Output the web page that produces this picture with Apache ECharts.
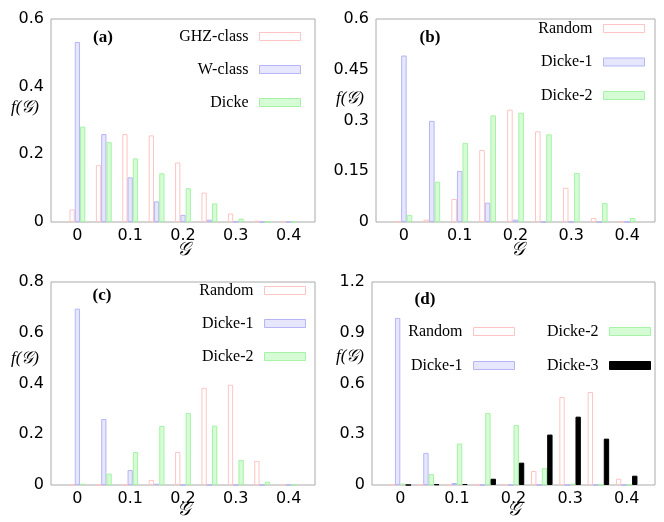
<!DOCTYPE html>
<html>
<head>
<meta charset="utf-8">
<script src="https://cdn.jsdelivr.net/npm/echarts@6/dist/echarts.min.js"></script>
<style>
  html, body { margin: 0; padding: 0; background: #fff; }
  #chart { width: 664px; height: 522px; }
</style>
</head>
<body>
<div id="chart"></div>
<script>
// Bin centres of the entanglement measure G
const bins = [0, 0.05, 0.1, 0.15, 0.2, 0.25, 0.3, 0.35, 0.4];
const xTicks = [0, 0.1, 0.2, 0.3, 0.4];

// Panel (a)
const ghzA   = [0.037, 0.168, 0.260, 0.256, 0.176, 0.087, 0.025, 0.004, 0.002];
const wA     = [0.532, 0.260, 0.132, 0.061, 0.021, 0.007, 0.001, 0, 0];
const dickeA = [0.282, 0.236, 0.188, 0.144, 0.100, 0.055, 0.010, 0, 0];
const yTicksA = [0, 0.2, 0.4, 0.6];

// Panel (b)
const randomB = [0.001, 0.007, 0.068, 0.213, 0.332, 0.268, 0.101, 0.012, 0.002];
const dicke1B = [0.492, 0.299, 0.151, 0.057, 0.007, 0, 0, 0, 0];
const dicke2B = [0.021, 0.119, 0.234, 0.315, 0.323, 0.259, 0.145, 0.056, 0.012];
const yTicksB = [0, 0.15, 0.3, 0.45, 0.6];

// Panel (c)
const randomC = [0, 0, 0, 0.020, 0.130, 0.383, 0.395, 0.095, 0.003];
const dicke1C = [0.695, 0.260, 0.059, 0.005, 0, 0, 0, 0, 0];
const dicke2C = [0.005, 0.045, 0.130, 0.233, 0.284, 0.234, 0.099, 0.013, 0];
const yTicksC = [0, 0.2, 0.4, 0.6, 0.8];

// Panel (d)
const randomD = [0, 0, 0, 0.001, 0.004, 0.083, 0.520, 0.550, 0.037];
const dicke1D = [0.988, 0.190, 0.012, 0, 0, 0, 0, 0, 0];
const dicke2D = [0.008, 0.065, 0.245, 0.426, 0.355, 0.100, 0.008, 0, 0];
const dicke3D = [0, 0.004, 0.006, 0.037, 0.132, 0.298, 0.404, 0.274, 0.055];
const yTicksD = [0, 0.3, 0.6, 0.9, 1.2];

const STYLE = {
  pink:  { color: '#ffffff', borderColor: '#ffc4c4', borderWidth: 1 },
  blue:  { color: '#e6e6fd', borderColor: '#b6b6f6', borderWidth: 1 },
  green: { color: '#d6fcd6', borderColor: '#a6f2a6', borderWidth: 1 },
  black: { color: '#000000', borderColor: '#000000', borderWidth: 1 }
};

const SANS = 'DejaVu Sans';
const SERIF = 'Liberation Serif';

const grids = [
  { left: 51,  right: 349, top: 19,  bottom: 300 },
  { left: 376, right: 9,   top: 19,  bottom: 300 },
  { left: 51,  right: 349, top: 282, bottom: 37 },
  { left: 372, right: 9,   top: 282, bottom: 37 }
].map(g => Object.assign({ show: true, borderColor: '#aaaaaa', borderWidth: 1, backgroundColor: 'transparent' }, g));

function xAxisFor(i) {
  return {
    type: 'value', gridIndex: i, min: -0.05, max: 0.45, interval: 0.05,
    axisLine: { show: false }, axisTick: { show: false }, splitLine: { show: false },
    axisLabel: {
      color: '#000', fontFamily: SANS, fontSize: 16, margin: 6,
      showMinLabel: true, showMaxLabel: true,
      formatter: v => {
        const t = xTicks.find(t => Math.abs(t - v) < 1e-6);
        return t === undefined ? '' : String(t);
      }
    }
  };
}

function yAxisFor(i, ticks) {
  return {
    type: 'value', gridIndex: i, min: ticks[0], max: ticks[ticks.length - 1],
    interval: ticks[1] - ticks[0],
    axisLine: { show: false }, axisTick: { show: false }, splitLine: { show: false },
    axisLabel: {
      color: '#000', fontFamily: SANS, fontSize: 16, margin: 7,
      formatter: v => {
        const t = ticks.find(t => Math.abs(t - v) < 1e-6);
        return t === undefined ? '' : String(t);
      }
    }
  };
}

function barSeries(name, values, style, axisIdx, width) {
  return {
    name: name, type: 'bar', xAxisIndex: axisIdx, yAxisIndex: axisIdx,
    data: bins.map((b, k) => [b, values[k]]),
    barWidth: width, barGap: '0%',
    itemStyle: style,
    emphasis: { disabled: true },
    animation: false
  };
}

const series = [
  barSeries('GHZ-class', ghzA, STYLE.pink, 0, '20%'),
  barSeries('W-class', wA, STYLE.blue, 0, '20%'),
  barSeries('Dicke', dickeA, STYLE.green, 0, '20%'),

  barSeries('Random', randomB, STYLE.pink, 1, '20%'),
  barSeries('Dicke-1', dicke1B, STYLE.blue, 1, '20%'),
  barSeries('Dicke-2', dicke2B, STYLE.green, 1, '20%'),

  barSeries('Random', randomC, STYLE.pink, 2, '20%'),
  barSeries('Dicke-1', dicke1C, STYLE.blue, 2, '20%'),
  barSeries('Dicke-2', dicke2C, STYLE.green, 2, '20%'),

  barSeries('Random', randomD, STYLE.pink, 3, '19%'),
  barSeries('Dicke-1', dicke1D, STYLE.blue, 3, '19%'),
  barSeries('Dicke-2', dicke2D, STYLE.green, 3, '19%'),
  barSeries('Dicke-3', dicke3D, STYLE.black, 3, '19%')
];

function legendFor(names, right, top, gap) {
  return {
    data: names, orient: 'vertical', align: 'right', right: right, top: top,
    padding: 0, itemGap: gap, itemWidth: 41, itemHeight: 8, icon: 'rect',
    selectedMode: false,
    itemStyle: { borderWidth: 1 },
    textStyle: { fontFamily: SERIF, fontSize: 16, lineHeight: 16, color: '#000', padding: [0, 6, 0, 0] }
  };
}

const legends = [
  legendFor(['GHZ-class', 'W-class', 'Dicke'], 363, 28.5, 17),
  legendFor(['Random', 'Dicke-1', 'Dicke-2'], 19, 20.5, 17.5),
  legendFor(['Random', 'Dicke-1', 'Dicke-2'], 358, 282.5, 17),
  legendFor(['Random', 'Dicke-1'], 149, 323.5, 18),
  legendFor(['Dicke-2', 'Dicke-3'], 13, 323.5, 18)
];

function txt(x, y, text, font, align) {
  return {
    type: 'text', x: x, y: y, silent: true,
    style: Object.assign({ text: text, fill: '#000', align: align || 'center', verticalAlign: 'middle' }, font)
  };
}
const labelFont = { fontFamily: SERIF, fontWeight: 'bold', fontSize: 17 };
const nameFont = { fontFamily: SERIF, fontStyle: 'italic', fontSize: 17 };
const axisNameFont = { fontFamily: SERIF, fontStyle: 'italic', fontSize: 19 };

const graphics = [
  txt(103, 38, '(a)', labelFont), txt(430, 38, '(b)', labelFont),
  txt(102, 296, '(c)', labelFont), txt(425, 300, '(d)', labelFont),
  txt(39, 108, 'f(𝒢)', nameFont, 'right'), txt(364, 99, 'f(𝒢)', nameFont, 'right'),
  txt(39, 359, 'f(𝒢)', nameFont, 'right'), txt(364, 357, 'f(𝒢)', nameFont, 'right'),
  txt(184, 250, '𝒢', axisNameFont), txt(518, 250, '𝒢', axisNameFont),
  txt(184, 510, '𝒢', axisNameFont), txt(514, 510, '𝒢', axisNameFont)
];

const chart = echarts.init(document.getElementById('chart'), null, { renderer: 'canvas' });
chart.setOption({
  animation: false,
  backgroundColor: '#ffffff',
  grid: grids,
  xAxis: [0, 1, 2, 3].map(xAxisFor),
  yAxis: [yAxisFor(0, yTicksA), yAxisFor(1, yTicksB), yAxisFor(2, yTicksC), yAxisFor(3, yTicksD)],
  legend: legends,
  series: series,
  graphic: graphics
});
</script>
</body>
</html>
